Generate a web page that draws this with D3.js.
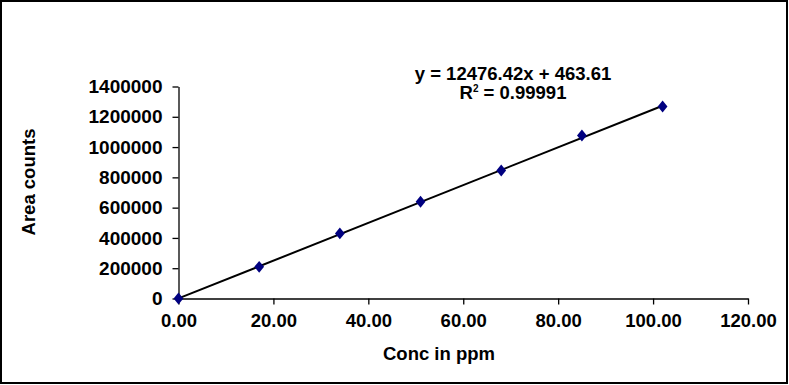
<!DOCTYPE html>
<html>
<head>
<meta charset="utf-8">
<script src="https://cdn.jsdelivr.net/npm/d3@7"></script>
<style>
  body { margin: 0; background: #fff; }
  text { font-family: Arial, "Liberation Sans", sans-serif; font-weight: bold; fill: #000; }
</style>
</head>
<body>
<div class="chart"></div>
<script>
// calibration data
const conc = [0, 17, 34, 51, 68, 85, 102];
const area = [0, 209000, 430000, 639000, 845000, 1076000, 1268000];
const slope = 12476.42;
const intercept = 463.61;
const xTicks = [0, 20, 40, 60, 80, 100, 120];
const yTicks = [0, 200000, 400000, 600000, 800000, 1000000, 1200000, 1400000];

let dims = { height: 385, width: 789 };
const plot = { left: 178.5, right: 748, top: 86.5, bottom: 298.5 };

let svg = d3
  .select(".chart")
  .append("svg")
  .attr("height", dims.height)
  .attr("width", dims.width);

// outer frame
svg.append("rect")
  .attr("x", 1).attr("y", 1)
  .attr("width", dims.width - 3).attr("height", dims.height - 3)
  .attr("fill", "none").attr("stroke", "#000").attr("stroke-width", 2);

const x = d3.scaleLinear().domain([0, 120]).range([plot.left, plot.right]);
const y = d3.scaleLinear().domain([0, 1400000]).range([plot.bottom, plot.top]);

let xAxis = svg.append("g")
  .attr("transform", `translate(0, ${plot.bottom})`)
  .call(d3.axisBottom(x).tickValues(xTicks).tickFormat(d3.format(".2f")).tickSizeInner(6).tickSizeOuter(0));
xAxis.selectAll("text").style("font-size", "18.5px").attr("dy", "0.71em").attr("y", 15);

let yAxis = svg.append("g")
  .attr("transform", `translate(${plot.left}, 0)`)
  .call(d3.axisLeft(y).tickValues(yTicks).tickFormat(d3.format("d")).tickSizeInner(6).tickSizeOuter(0));
yAxis.selectAll("text").style("font-size", "19px").attr("x", -16);

svg.selectAll(".domain, .tick line").attr("stroke", "#000").attr("stroke-width", 1.3);
svg.selectAll(".tick text").attr("fill", "#000").style("font-family", "Arial, 'Liberation Sans', sans-serif");

// trend line
svg.append("line")
  .attr("x1", x(conc[0])).attr("y1", y(slope * conc[0] + intercept))
  .attr("x2", x(conc[conc.length - 1])).attr("y2", y(slope * conc[conc.length - 1] + intercept))
  .attr("stroke", "#000").attr("stroke-width", 2);

// markers
svg.selectAll(".pt")
  .data(conc)
  .enter()
  .append("path")
  .attr("class", "pt")
  .attr("d", d3.symbol().type(d3.symbolDiamond2).size(75))
  .attr("transform", (d, i) => `translate(${x(d)}, ${y(area[i])}) scale(0.9, 1.1)`)
  .attr("fill", "#000080");

// labels
svg.append("text")
  .attr("x", 513).attr("y", 80)
  .attr("text-anchor", "middle")
  .style("font-size", "18.5px")
  .text("y = 12476.42x + 463.61");

let r2 = svg.append("text")
  .attr("x", 513).attr("y", 99)
  .attr("text-anchor", "middle")
  .style("font-size", "18.5px");
r2.append("tspan").text("R");
r2.append("tspan").attr("dy", -7).style("font-size", "10px").text("2");
r2.append("tspan").attr("dy", 7).text(" = 0.99991");

svg.append("text")
  .attr("x", 439).attr("y", 360)
  .attr("text-anchor", "middle")
  .style("font-size", "18.5px")
  .text("Conc in ppm");

svg.append("text")
  .attr("transform", `translate(35, 182) rotate(-90)`)
  .attr("text-anchor", "middle")
  .style("font-size", "18.5px")
  .text("Area counts");
</script>
</body>
</html>
